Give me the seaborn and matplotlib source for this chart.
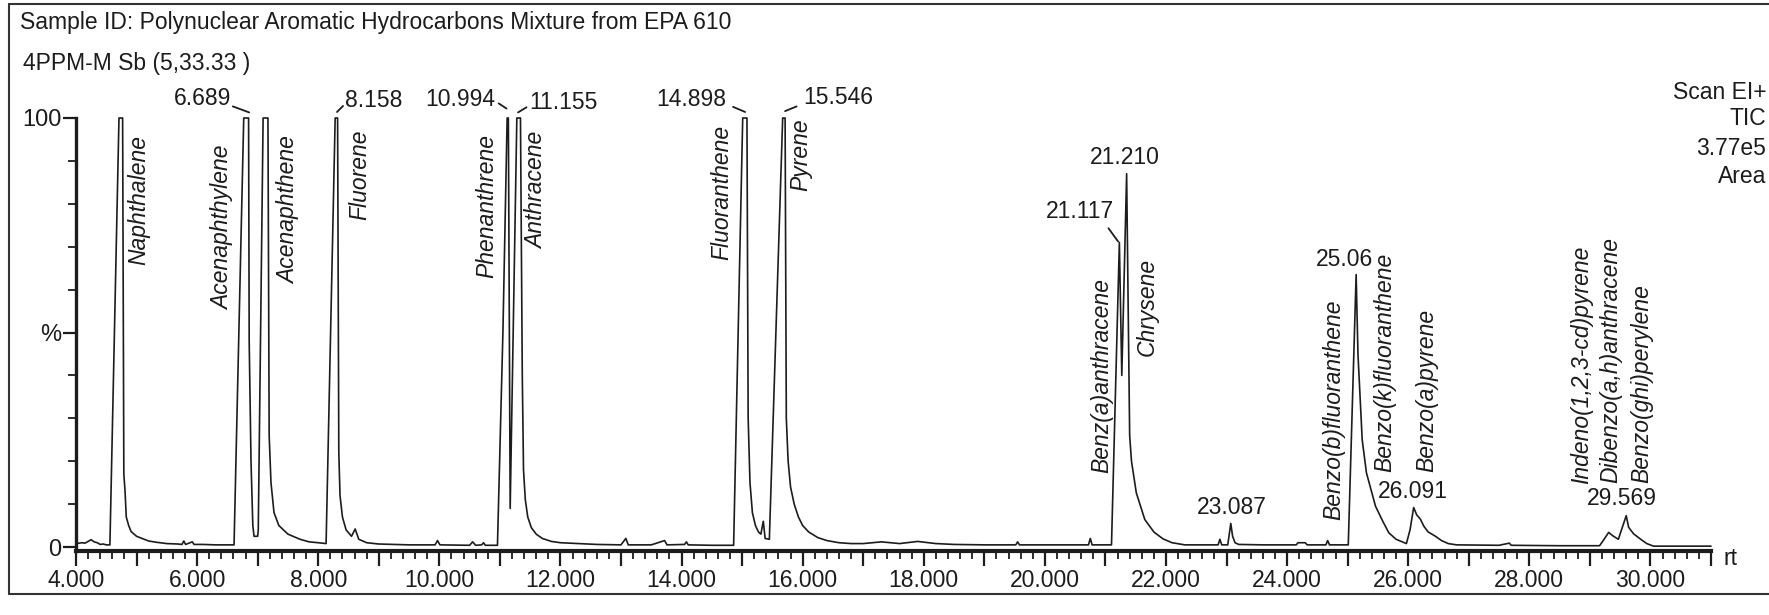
import matplotlib
matplotlib.use("Agg")
import matplotlib.pyplot as plt
from matplotlib.lines import Line2D
from matplotlib.ticker import FixedLocator, MultipleLocator, FuncFormatter
import seaborn as sns
import pandas as pd

# TIC trace: retention time (min) and relative intensity (%)
rt = [4.00, 4.05, 4.10, 4.15, 4.20, 4.25, 4.30, 4.35, 4.40, 4.45, 4.50, 4.56,
      4.71, 4.77, 4.79, 4.81, 4.83, 4.87, 4.91, 5.00, 5.09, 5.20, 5.33, 5.50,
      5.68, 5.75, 5.78, 5.81, 5.92, 5.95, 6.10, 6.30, 6.45, 6.61,
      6.77, 6.85, 6.86, 6.89, 6.92, 6.94, 7.00, 7.01,
      7.09, 7.17, 7.19, 7.22, 7.27, 7.35, 7.50, 7.70, 7.85, 8.00, 8.13,
      8.28, 8.32, 8.34, 8.36, 8.40, 8.46, 8.55, 8.61, 8.67, 8.80, 9.00,
      9.50, 9.93, 9.97, 10.01, 10.50, 10.55, 10.60, 10.70, 10.73, 10.76, 10.96,
      11.05, 11.12, 11.14, 11.17, 11.28, 11.34, 11.37, 11.39, 11.42, 11.46,
      11.52, 11.60, 11.70, 11.85, 12.00, 12.30, 12.60, 13.00, 13.08, 13.12,
      13.50, 13.72, 13.76, 14.05, 14.08, 14.11, 14.50, 14.86,
      15.01, 15.08, 15.10, 15.13, 15.17, 15.22, 15.27, 15.31, 15.35, 15.38, 15.45,
      15.67, 15.71, 15.73, 15.76, 15.80, 15.86, 15.93, 16.00, 16.10, 16.25,
      16.40, 16.60, 16.80, 17.00, 17.30, 17.60, 17.90, 18.20, 18.50, 19.00,
      19.52, 19.55, 19.58, 20.30, 20.72, 20.75, 20.78, 21.10,
      21.23, 21.27, 21.35, 21.40, 21.43, 21.51, 21.65, 21.80, 21.95, 22.10, 22.31,
      22.60, 22.86, 22.89, 22.92, 23.02, 23.07, 23.10, 23.14, 23.20, 23.60,
      24.15, 24.18, 24.30, 24.33, 24.64, 24.67, 24.70, 25.01,
      25.14, 25.17, 25.24, 25.31, 25.46, 25.58, 25.68, 25.80, 25.97,
      26.03, 26.09, 26.14, 26.20, 26.26, 26.33, 26.45, 26.55, 26.66, 26.80,
      27.50, 27.67, 27.70, 28.50, 29.16, 29.22, 29.31, 29.38, 29.47,
      29.60, 29.64, 29.72, 29.83, 29.94, 30.05, 30.50, 31.00]
intensity = [0.8, 0.9, 1.0, 0.9, 1.3, 1.7, 1.2, 1.0, 0.6, 0.7, 0.5, 0.5,
             100, 100, 17, 13, 7, 5, 3.6, 2.5, 2.0, 1.4, 1.1, 0.8,
             0.7, 0.6, 1.4, 0.6, 1.2, 0.6, 0.6, 0.5, 0.5, 0.5,
             100, 100, 48, 20, 5, 2.5, 2.5, 4,
             100, 100, 26, 15, 8, 5, 3, 1.8, 1.2, 1.0, 0.8,
             100, 100, 22, 12, 7, 4, 2.5, 4.2, 1.8, 1.0, 0.7,
             0.5, 0.5, 1.5, 0.5, 0.4, 1.2, 0.4, 0.5, 1.0, 0.4, 0.4,
             50, 100, 100, 9, 100, 100, 40, 18, 11, 7,
             4.5, 3, 2, 1.3, 1.0, 0.8, 0.6, 0.5, 2.0, 0.5,
             0.5, 1.5, 0.5, 0.6, 1.2, 0.5, 0.4, 0.4,
             100, 100, 30, 15, 8, 5, 3.5, 3, 6, 2, 1.8,
             100, 100, 30, 20, 14, 10, 7, 5, 3.5, 2.2,
             1.5, 1.0, 0.8, 0.8, 1.2, 0.8, 1.3, 0.8, 0.6, 0.5,
             0.5, 1.2, 0.5, 0.5, 0.5, 2.0, 0.5, 0.5,
             71, 40, 87, 26, 20, 12.6, 6.4, 3.5, 1.9, 1.0, 0.5,
             0.5, 0.5, 1.8, 0.5, 0.5, 5.5, 2.5, 1.0, 0.6, 0.5,
             0.5, 1.0, 1.0, 0.5, 0.5, 1.5, 0.5, 0.5,
             63.5, 45, 25, 17.3, 9.5, 6, 3.3, 1.8, 0.8,
             4, 9.2, 7.5, 6.5, 4.8, 3.5, 2.5, 1.5, 0.8, 0.5,
             0.4, 0.9, 0.4, 0.3, 0.3, 1.5, 3.4, 2.6, 1.8,
             7.3, 4.6, 3.1, 1.9, 0.8, 0.2, 0.2, 0.2]

# compound names (rotated), centre of each label in rt / %
compounds = ["Naphthalene", "Acenaphthylene", "Acenaphthene", "Fluorene",
             "Phenanthrene", "Anthracene", "Fluoranthene", "Pyrene",
             "Benz(a)anthracene", "Chrysene", "Benzo(b)fluoranthene",
             "Benzo(k)fluoranthene", "Benzo(a)pyrene", "Indeno(1,2,3-cd)pyrene",
             "Dibenzo(a,h)anthracene", "Benzo(ghi)perylene"]
compound_rt = [5.03, 6.42, 7.51, 8.69, 10.78, 11.61, 14.67, 15.97,
               20.94, 21.69, 24.77, 25.61, 26.30, 28.87, 29.34, 29.86]
compound_pct = [80.8, 74.5, 78.6, 86.8, 79.5, 83.1, 82.6, 91.5,
                40.0, 56.0, 32.0, 43.0, 36.5, 42.5, 43.5, 38.0]

# retention time labels
rt_text = ["6.689", "8.158", "10.994", "11.155", "14.898", "15.546",
           "21.210", "21.117", "23.087", "25.06", "26.091", "29.569"]
rt_text_x = [6.56, 8.44, 10.92, 11.49, 14.74, 16.01,
             21.32, 21.14, 23.08, 24.47, 26.08, 29.53]
rt_text_y = [104.5, 104.0, 104.4, 103.7, 104.4, 104.7,
             90.7, 78.1, 9.1, 67.0, 12.9, 11.3]
rt_text_ha = ["right", "left", "right", "left", "right", "left",
              "center", "right", "center", "left", "center", "center"]

# short leader lines between a label and its peak
lead_x0 = [6.59, 8.31, 10.98, 11.30, 14.85, 15.71, 21.05]
lead_y0 = [102.7, 101.4, 103.4, 101.3, 102.6, 101.6, 74.3]
lead_x1 = [6.86, 8.41, 11.11, 11.44, 15.05, 15.90, 21.21]
lead_y1 = [101.3, 102.8, 102.2, 102.5, 101.4, 102.7, 71.2]

ink = "#1c1c1c"
fs = 16.5

sns.set_style("white")
plt.rcParams["font.family"] = ["Liberation Sans", "DejaVu Sans"]
plt.rcParams["text.color"] = ink

fig = plt.figure(figsize=(17.69, 6.15), dpi=100)
ax = fig.add_axes([0.04296, 0.10407, 0.92425, 0.70407])

df = pd.DataFrame({"rt": rt, "pct": intensity})
sns.lineplot(data=df, x="rt", y="pct", ax=ax, color=ink, linewidth=1.2,
             estimator=None, sort=False)
for ln in ax.lines:
    ln.set_clip_on(False)

ax.set_xlim(4, 31)
ax.set_ylim(-0.93, 100)
ax.set_xlabel("")
ax.set_ylabel("")

for side in ["top", "right"]:
    ax.spines[side].set_visible(False)
ax.spines["left"].set_linewidth(2.4)
ax.spines["bottom"].set_linewidth(3.0)
ax.spines["left"].set_color(ink)
ax.spines["bottom"].set_color(ink)

ax.xaxis.set_major_locator(FixedLocator(list(range(4, 32))))
ax.xaxis.set_major_formatter(FuncFormatter(
    lambda v, p: f"{v:.3f}" if int(round(v)) % 2 == 0 else ""))
ax.xaxis.set_minor_locator(MultipleLocator(0.2))
ax.yaxis.set_major_locator(FixedLocator([0, 50, 100]))
ax.yaxis.set_major_formatter(FuncFormatter(
    lambda v, p: {0: "0", 50: "%", 100: "100"}[int(round(v))]))
ax.yaxis.set_minor_locator(FixedLocator([10, 20, 30, 40, 60, 70, 80, 90]))

ax.tick_params(axis="x", which="major", bottom=True, length=10.8, width=1.6,
               direction="out", pad=2, labelsize=fs, color=ink, labelcolor=ink)
ax.tick_params(axis="x", which="minor", bottom=True, length=5.8, width=1.3,
               direction="out", color=ink)
ax.tick_params(axis="y", which="major", left=True, length=9.5, width=1.6,
               direction="out", pad=1, labelsize=17, color=ink, labelcolor=ink)
ax.tick_params(axis="y", which="minor", left=True, length=6, width=1.3,
               direction="out", color=ink)

for name, x, y in zip(compounds, compound_rt, compound_pct):
    ax.text(x, y, name, rotation=90, ha="center", va="center",
            style="italic", fontsize=fs, color=ink)

for s, x, y, ha in zip(rt_text, rt_text_x, rt_text_y, rt_text_ha):
    ax.text(x, y, s, ha=ha, va="center", fontsize=fs, color=ink)

for x0, y0, x1, y1 in zip(lead_x0, lead_y0, lead_x1, lead_y1):
    ax.plot([x0, x1], [y0, y1], color=ink, linewidth=1.3, clip_on=False)

ax.text(1.0117, -0.018, "rt", transform=ax.transAxes, ha="center", va="center",
        fontsize=fs, color=ink)

# page header and frame
fig.text(0.0113, 0.9640, "Sample ID: Polynuclear Aromatic Hydrocarbons Mixture from EPA 610",
         ha="left", va="center", fontsize=fs)
fig.text(0.0128, 0.8970, "4PPM-M Sb (5,33.33 )", ha="left", va="center", fontsize=fs)
for s, y in zip(["Scan EI+", "TIC", "3.77e5", "Area"], [0.8500, 0.8080, 0.7593, 0.7122]):
    fig.text(0.9985, y, s, ha="right", va="center", fontsize=fs)

fig.add_artist(Line2D([0.0051, 1.0], [0.9935, 0.9935], color="#333333", linewidth=1.5))
fig.add_artist(Line2D([0.0051, 1.0], [0.0340, 0.0340], color="#333333", linewidth=1.5))
fig.add_artist(Line2D([0.0051, 0.0051], [0.0340, 0.9935], color="#333333", linewidth=1.5))

fig.savefig("out.png", dpi=100)
